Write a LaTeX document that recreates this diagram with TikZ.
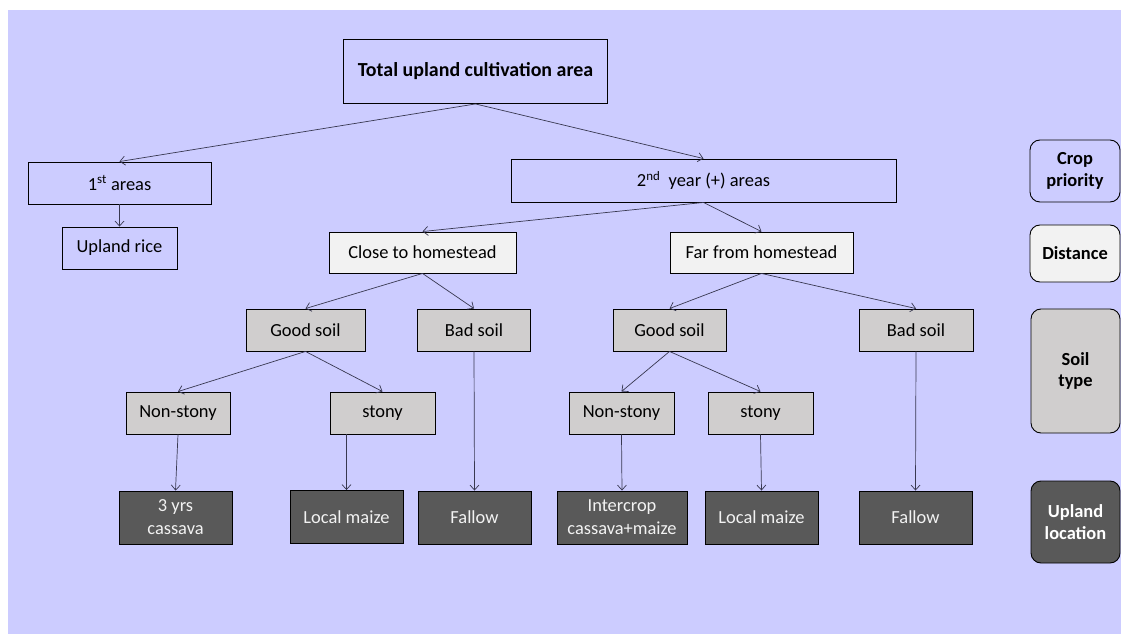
\documentclass[tikz,border=0pt]{standalone}
\usepackage{fontspec}
\setmainfont{Carlito}
\usetikzlibrary{arrows.meta}
\definecolor{lav}{HTML}{CCCCFF}
\definecolor{lightbox}{HTML}{F2F2F2}
\definecolor{midbox}{HTML}{D0CECE}
\definecolor{darkbox}{HTML}{595959}
\definecolor{linecol}{HTML}{383850}
\tikzset{
  box/.style={draw=black, line width=0.9bp, inner sep=0pt, align=center, font=\fontsize{18.5}{23}\selectfont},
  plainbox/.style={box},
  lightb/.style={box, fill=lightbox},
  midb/.style={box, fill=midbox},
  darkb/.style={box, fill=darkbox, text=lightbox},
  legend/.style={draw=black, line width=0.9bp, rounded corners=10bp, inner sep=0pt, align=center, font=\fontsize{18.5}{22}\selectfont\bfseries},
  conn/.style={draw=linecol, line width=0.7bp, -{Straight Barb[length=5bp,width=9bp]}},
}
\begin{document}
\begin{tikzpicture}[x=1bp,y=-1bp]
\useasboundingbox (0,0) rectangle (1121,634);
\fill[white] (0,0) rectangle (1121,634);
\fill[lav] (8,10) rectangle (1121,634);

\node[box, minimum width=264bp, minimum height=64bp, font=\fontsize{20}{24}\selectfont\bfseries] (total) at (475.5,71.5) {Total upland cultivation area};

\node[plainbox, minimum width=183bp, minimum height=42bp] (first) at (119.5,183) {1\textsuperscript{st} areas};
\node[plainbox, minimum width=385bp, minimum height=43bp] (second) at (703.5,180.5) {2\textsuperscript{nd}\ \ year (+) areas};
\node[plainbox, minimum width=115bp, minimum height=42bp] (rice) at (119.5,248) {Upland rice};

\node[lightb, minimum width=187bp, minimum height=41bp] (close) at (422.5,252.5) {Close to homestead};
\node[lightb, minimum width=183bp, minimum height=41bp] (far) at (761.5,252.5) {Far from homestead};

\node[midb, minimum width=119bp, minimum height=42bp] (gs1) at (305.5,330) {Good soil};
\node[midb, minimum width=113bp, minimum height=42bp] (bs1) at (474,330) {Bad soil};
\node[midb, minimum width=113bp, minimum height=42bp] (gs2) at (669.5,330) {Good soil};
\node[midb, minimum width=114bp, minimum height=42bp] (bs2) at (916,330) {Bad soil};

\node[midb, minimum width=104bp, minimum height=42bp] (ns1) at (178,413) {Non-stony};
\node[midb, minimum width=105bp, minimum height=42bp] (st1) at (382.5,413) {stony};
\node[midb, minimum width=105bp, minimum height=42bp] (ns2) at (621.5,413) {Non-stony};
\node[midb, minimum width=105bp, minimum height=42bp] (st2) at (760.5,413) {stony};

\node[darkb, minimum width=113bp, minimum height=53bp] (cas) at (175.5,517.5) {3 yrs\\cassava};
\node[darkb, minimum width=113bp, minimum height=53bp] (lm1) at (346.5,517) {Local maize};
\node[darkb, minimum width=113bp, minimum height=53bp] (fal1) at (474.5,517.5) {Fallow};
\node[darkb, minimum width=130bp, minimum height=53bp] (ic) at (622,517.5) {Intercrop\\cassava+maize};
\node[darkb, minimum width=113bp, minimum height=53bp] (lm2) at (761.5,517.5) {Local maize};
\node[darkb, minimum width=113bp, minimum height=53bp] (fal2) at (915.5,517.5) {Fallow};

\node[legend, minimum width=90bp, minimum height=62bp] (lg1) at (1075,171) {Crop\\priority};
\node[legend, fill=lightbox, minimum width=90bp, minimum height=57bp] (lg2) at (1075,253.5) {Distance};
\node[legend, fill=midbox, minimum width=89bp, minimum height=124bp] (lg3) at (1075.5,371) {Soil\\type};
\node[legend, fill=darkbox, text=white, minimum width=89bp, minimum height=82bp] (lg4) at (1075.5,522) {Upland\\location};

\draw[conn] (total.south) -- (first.north);
\draw[conn] (total.south) -- (second.north);
\draw[conn] (first.south) -- (rice.north);
\draw[conn] (second.south) -- (close.north);
\draw[conn] (second.south) -- (far.north);
\draw[conn] (close.south) -- (gs1.north);
\draw[conn] (close.south) -- (bs1.north);
\draw[conn] (far.south) -- (gs2.north);
\draw[conn] (far.south) -- (bs2.north);
\draw[conn] (gs1.south) -- (ns1.north);
\draw[conn] (gs1.south) -- (st1.north);
\draw[conn] (gs2.south) -- (ns2.north);
\draw[conn] (gs2.south) -- (st2.north);
\draw[conn] (ns1.south) -- (cas.north);
\draw[conn] (lm1.north |- st1.south) -- (lm1.north);
\draw[conn] (bs1.south) -- (fal1.north);
\draw[conn] (ns2.south) -- (ic.north);
\draw[conn] (st2.south) -- (lm2.north);
\draw[conn] (bs2.south) -- (fal2.north);
\end{tikzpicture}
\end{document}
